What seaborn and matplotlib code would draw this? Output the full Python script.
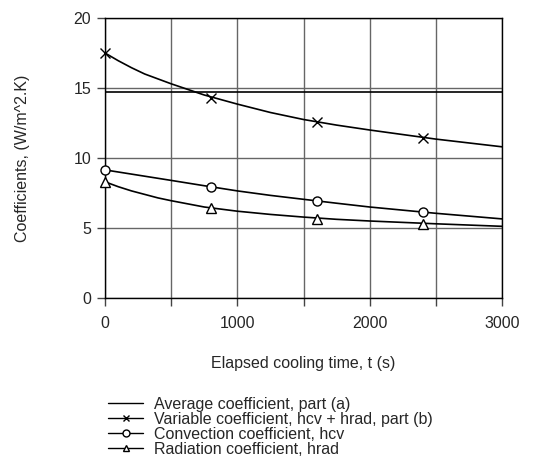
import numpy as np
import pandas as pd
import matplotlib
matplotlib.use("Agg")
import matplotlib.pyplot as plt
from matplotlib.lines import Line2D
from matplotlib.ticker import MultipleLocator
import seaborn as sns

# fitted curves
curve_t = [0, 100, 200, 300, 400, 500, 750, 1000, 1250, 1500, 1750, 2000, 2500, 3000]
variable_curve = [17.5, 16.95, 16.45, 16.0, 15.65, 15.3, 14.5, 13.85, 13.25, 12.75, 12.35, 12.0, 11.35, 10.8]
convection_curve = [9.15, 9.0, 8.85, 8.7, 8.55, 8.4, 8.02, 7.65, 7.33, 7.05, 6.77, 6.5, 6.05, 5.65]
radiation_curve = [8.3, 7.95, 7.65, 7.4, 7.15, 6.95, 6.5, 6.2, 5.97, 5.78, 5.62, 5.5, 5.3, 5.12]
average_value = 14.75

# data points
point_t = [0, 800, 1600, 2400]
variable_pts = [17.5, 14.3, 12.55, 11.45]
convection_pts = [9.15, 7.9, 6.95, 6.15]
radiation_pts = [8.3, 6.4, 5.65, 5.3]

labels = [
    "Average coefficient, part (a)",
    "Variable coefficient, hcv + hrad, part (b)",
    "Convection coefficient, hcv",
    "Radiation coefficient, hrad",
]

sns.set_style("white")
plt.rcParams["font.family"] = ["Liberation Sans", "DejaVu Sans"]

curves = pd.DataFrame({
    "t": curve_t * 4,
    "h": [average_value] * len(curve_t) + variable_curve + convection_curve + radiation_curve,
    "series": sum([[lab] * len(curve_t) for lab in labels], []),
})
points = pd.DataFrame({
    "t": point_t * 3,
    "h": variable_pts + convection_pts + radiation_pts,
    "series": sum([[lab] * len(point_t) for lab in labels[1:]], []),
})

fig = plt.figure(figsize=(5.39, 4.61), dpi=100)
ax = fig.add_axes([105 / 539, 1 - 298 / 461, 397 / 539, 280 / 461])

sns.lineplot(data=curves, x="t", y="h", hue="series", palette=["black"] * 4,
             linewidth=1.2, legend=False, ax=ax, zorder=3)

markers = {labels[1]: "x", labels[2]: "o", labels[3]: "^"}
for lab, mk in markers.items():
    sub = points[points["series"] == lab]
    if mk == "x":
        ax.plot(sub["t"], sub["h"], ls="none", marker="x", ms=7, mew=1.0,
                color="black", zorder=4, clip_on=False)
    else:
        ax.plot(sub["t"], sub["h"], ls="none", marker=mk, ms=6.5, mew=1.0,
                mfc="white", mec="black", zorder=4, clip_on=False)

ax.set_xlim(0, 3000)
ax.set_ylim(0, 20)
ax.xaxis.set_major_locator(MultipleLocator(1000))
ax.xaxis.set_minor_locator(MultipleLocator(500))
ax.yaxis.set_major_locator(MultipleLocator(5))
ax.grid(True, which="both", axis="x", color="#666666", linewidth=1.0)
ax.grid(True, which="major", axis="y", color="#666666", linewidth=1.0)
ax.set_axisbelow(True)
ax.tick_params(axis="both", which="both", direction="out", length=6, width=1,
               color="#444444", labelsize=11.5, left=True, bottom=True, pad=4)
ax.tick_params(axis="x", which="both", pad=7)
for s in ax.spines.values():
    s.set_visible(True)
    s.set_color("black")
    s.set_linewidth(1.0)

ax.set_xlabel("Elapsed cooling time, t (s)", fontsize=11.5, labelpad=18)
ax.set_ylabel("Coefficients, (W/m^2.K)", fontsize=11.5, labelpad=31)

handles = [
    Line2D([], [], color="black", lw=1),
    Line2D([], [], color="black", lw=1, marker="x", ms=5, mew=1),
    Line2D([], [], color="black", lw=1, marker="o", ms=5, mfc="white", mew=1),
    Line2D([], [], color="black", lw=1, marker="^", ms=5, mfc="white", mew=1),
]
fig.legend(handles, labels, loc="upper left", bbox_to_anchor=(108 / 539, 1 - 397 / 461),
           frameon=False, fontsize=11.5, labelspacing=0.0, handlelength=2.2,
           handletextpad=0.7, borderpad=0, borderaxespad=0)

fig.savefig("out.png", dpi=100)
